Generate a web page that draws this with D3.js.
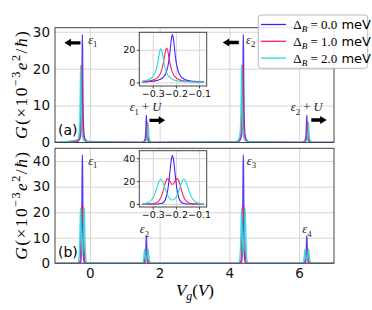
<!DOCTYPE html>
<html>
<head>
<meta charset="utf-8">
<script src="https://cdn.jsdelivr.net/npm/d3@7"></script>
<style>
  body { margin: 0; background: #fff; }
  svg { display: block; }
</style>
</head>
<body>
<svg id="chart"></svg>
<script>
// ---------- data ----------
var vgTicks = [0, 2, 4, 6];
var gTicksA = [0, 10, 20, 30];
var gTicksB = [0, 10, 20, 30, 40];
var insetVTicks = [-0.3, -0.2, -0.1];
var insetGTicksA = [0, 20];
var insetGTicksB = [0, 20, 40];
var deltaB = ["0.0", "1.0", "2.0"];

// zoom on the first resonance (both insets share this Vg grid)
var insetV = [-0.345, -0.32, -0.30, -0.29, -0.285, -0.28, -0.275, -0.27, -0.265, -0.26,
  -0.255, -0.25, -0.245, -0.24, -0.235, -0.23, -0.225, -0.22, -0.215, -0.21,
  -0.205, -0.20, -0.195, -0.19, -0.185, -0.18, -0.175, -0.17, -0.165, -0.16,
  -0.155, -0.15, -0.145, -0.14, -0.13, -0.12, -0.10, -0.08];
var insetBlueA = [0.33, 0.50, 0.75, 0.96, 1.10, 1.26, 1.47, 1.74, 2.07, 2.52, 3.11, 3.93, 5.10, 6.99, 9.64, 13.7, 19.4, 26.0, 29.3, 26.0,
  19.4, 13.7, 9.64, 6.99, 5.10, 3.93, 3.11, 2.52, 2.07, 1.74, 1.47, 1.26, 1.10, 0.96, 0.75, 0.61, 0.42, 0.30];
var insetRedA = [0.48, 0.82, 1.40, 1.97, 2.38, 2.92, 3.66, 4.69, 6.16, 8.27, 11.3, 15.2, 19.3, 21.0, 19.3, 15.2, 11.3, 8.27, 6.16, 4.69,
  3.66, 2.92, 2.38, 1.97, 1.66, 1.40, 1.21, 1.05, 0.92, 0.82, 0.73, 0.65, 0.58, 0.53, 0.44, 0.37, 0.27, 0.21];
var insetCyanA = [0.79, 1.61, 3.56, 5.99, 8.04, 10.96, 14.8, 18.8, 20.8, 18.8, 14.8, 10.96, 8.04, 5.99, 4.56, 3.56, 2.84, 2.31, 1.91, 1.61,
  1.36, 1.18, 1.02, 0.90, 0.79, 0.71, 0.63, 0.57, 0.51, 0.47, 0.43, 0.39, 0.36, 0.33, 0.29, 0.25, 0.19, 0.15];
var insetBlueB = [0, 0, 0, 0.01, 0.03, 0.06, 0.12, 0.21, 0.39, 0.71, 1.3, 2.35, 4.2, 7.4, 12.5, 20.2, 29.7, 38.4, 42.4, 38.4,
  29.7, 20.2, 12.5, 7.4, 4.2, 2.35, 1.3, 0.71, 0.39, 0.21, 0.12, 0.06, 0.03, 0.01, 0, 0, 0, 0];
var insetRedB = [0, 0.04, 0.28, 0.67, 1.05, 1.62, 2.50, 3.80, 5.68, 8.26, 11.54, 15.25, 18.8, 21.3, 22.2, 21.3, 19.6, 17.9, 17.3, 17.9,
  19.6, 21.3, 22.2, 21.3, 18.8, 15.25, 11.54, 8.26, 5.68, 3.80, 2.50, 1.62, 1.05, 0.67, 0.28, 0.12, 0.02, 0];
var insetCyanB = [0.18, 1.22, 5.12, 9.57, 12.5, 15.7, 18.6, 20.8, 21.5, 20.8, 18.7, 15.8, 12.7, 9.83, 7.46, 5.69, 4.46, 3.78, 3.5, 3.78,
  4.46, 5.69, 7.46, 9.83, 12.7, 15.8, 18.7, 20.8, 21.5, 20.8, 18.6, 15.7, 12.5, 9.57, 5.12, 2.6, 0.57, 0.12];

// panel (a), other resonances as [Vg, G]
var blueA_e1U = [[1.47,0.06],[1.54,0.22],[1.58,0.81],[1.60,2.43],[1.61,4.9],[1.62,7.4],[1.63,4.9],[1.64,2.43],[1.66,0.81],[1.70,0.22],[1.77,0.06]];
var redA_e1U = [[1.495,0.06],[1.565,0.21],[1.605,0.76],[1.625,2.15],[1.635,3.96],[1.645,5.5],[1.655,3.96],[1.665,2.15],[1.685,0.76],[1.725,0.21],[1.795,0.06]];
var cyanA_e1U = [[1.52,0.06],[1.59,0.2],[1.63,0.73],[1.65,2.07],[1.66,3.8],[1.67,5.3],[1.68,3.8],[1.69,2.07],[1.71,0.73],[1.75,0.2],[1.82,0.06]];
var blueA_e2 = [[4.2,0.14],[4.3,0.56],[4.35,2.13],[4.37,5.24],[4.38,9.64],[4.39,19.4],[4.395,26.0],[4.40,29.3],[4.405,26.0],[4.41,19.4],[4.42,9.64],[4.43,5.24],[4.45,2.13],[4.5,0.56],[4.6,0.14]];
var redA_e2 = [[4.175,0.13],[4.275,0.53],[4.325,1.97],[4.345,4.69],[4.355,8.27],[4.365,15.2],[4.37,19.3],[4.375,21.0],[4.38,19.3],[4.385,15.2],[4.395,8.27],[4.405,4.69],[4.425,1.97],[4.475,0.53],[4.575,0.13]];
var cyanA_e2 = [[4.15,0.13],[4.25,0.51],[4.30,1.91],[4.32,4.56],[4.33,8.04],[4.34,14.8],[4.345,18.8],[4.35,20.8],[4.355,18.8],[4.36,14.8],[4.37,8.04],[4.38,4.56],[4.40,1.91],[4.45,0.51],[4.55,0.13]];
var blueA_e2U = [[6.07,0.06],[6.14,0.22],[6.18,0.81],[6.20,2.43],[6.21,4.9],[6.22,7.4],[6.23,4.9],[6.24,2.43],[6.26,0.81],[6.30,0.22],[6.37,0.06]];
var redA_e2U = [[6.095,0.06],[6.165,0.21],[6.205,0.76],[6.225,2.15],[6.235,3.96],[6.245,5.5],[6.255,3.96],[6.265,2.15],[6.285,0.76],[6.325,0.21],[6.395,0.06]];
var cyanA_e2U = [[6.12,0.06],[6.19,0.2],[6.23,0.73],[6.25,2.07],[6.26,3.8],[6.27,5.3],[6.28,3.8],[6.29,2.07],[6.31,0.73],[6.35,0.2],[6.42,0.06]];

// panel (b), other resonances as [Vg, G]
var blueB_e2 = [[1.52,0],[1.56,0.03],[1.58,0.33],[1.59,1.07],[1.60,3.19],[1.605,5.15],[1.61,7.6],[1.615,9.8],[1.62,10.7],[1.625,9.8],[1.63,7.6],[1.635,5.15],[1.64,3.19],[1.65,1.07],[1.66,0.33],[1.68,0.03],[1.72,0]];
var redB_e2 = [[1.505,0],[1.535,0.06],[1.555,0.37],[1.57,1.3],[1.58,2.65],[1.59,4.3],[1.60,5.1],[1.61,4.5],[1.62,4.0],[1.63,4.5],[1.64,5.1],[1.65,4.3],[1.66,2.65],[1.67,1.3],[1.685,0.37],[1.705,0.06],[1.735,0]];
var cyanB_e2 = [[1.47,0.01],[1.505,0.15],[1.535,1.31],[1.55,3.2],[1.56,4.76],[1.57,5.5],[1.58,4.79],[1.59,3.25],[1.60,1.91],[1.61,1.14],[1.62,0.9],[1.63,1.14],[1.64,1.91],[1.65,3.25],[1.66,4.79],[1.67,5.5],[1.68,4.76],[1.69,3.2],[1.705,1.31],[1.735,0.15],[1.77,0.01]];
var blueB_e3 = [[4.30,0],[4.34,0.12],[4.36,1.3],[4.37,4.2],[4.38,12.5],[4.385,20.2],[4.39,29.7],[4.395,38.4],[4.40,42.4],[4.405,38.4],[4.41,29.7],[4.415,20.2],[4.42,12.5],[4.43,4.2],[4.44,1.3],[4.46,0.12],[4.50,0]];
var redB_e3 = [[4.285,0],[4.315,0.28],[4.335,1.62],[4.35,5.68],[4.36,11.54],[4.37,18.8],[4.38,22.2],[4.39,19.6],[4.40,17.3],[4.41,19.6],[4.42,22.2],[4.43,18.8],[4.44,11.54],[4.45,5.68],[4.465,1.62],[4.485,0.28],[4.515,0]];
var cyanB_e3 = [[4.25,0.05],[4.285,0.57],[4.315,5.12],[4.33,12.5],[4.34,18.6],[4.35,21.5],[4.36,18.7],[4.37,12.7],[4.38,7.46],[4.39,4.46],[4.40,3.5],[4.41,4.46],[4.42,7.46],[4.43,12.7],[4.44,18.7],[4.45,21.5],[4.46,18.6],[4.47,12.5],[4.485,5.12],[4.515,0.57],[4.55,0.05]];
var blueB_e4 = [[6.12,0],[6.16,0.03],[6.18,0.33],[6.19,1.07],[6.20,3.19],[6.205,5.15],[6.21,7.6],[6.215,9.8],[6.22,10.7],[6.225,9.8],[6.23,7.6],[6.235,5.15],[6.24,3.19],[6.25,1.07],[6.26,0.33],[6.28,0.03],[6.32,0]];
var redB_e4 = [[6.105,0],[6.135,0.06],[6.155,0.37],[6.17,1.3],[6.18,2.65],[6.19,4.3],[6.20,5.1],[6.21,4.5],[6.22,4.0],[6.23,4.5],[6.24,5.1],[6.25,4.3],[6.26,2.65],[6.27,1.3],[6.285,0.37],[6.305,0.06],[6.335,0]];
var cyanB_e4 = [[6.07,0.01],[6.105,0.15],[6.135,1.31],[6.15,3.2],[6.16,4.76],[6.17,5.5],[6.18,4.79],[6.19,3.25],[6.20,1.91],[6.21,1.14],[6.22,0.9],[6.23,1.14],[6.24,1.91],[6.25,3.25],[6.26,4.79],[6.27,5.5],[6.28,4.76],[6.29,3.2],[6.305,1.31],[6.335,0.15],[6.37,0.01]];

// ---------- drawing ----------
var W = 372, H = 310;
var colors = ["#4422ff", "#ff2255", "#22dddd"];
var gridColor = "#d6d6d6";
var spineColor = "#444";
var serif = "'Liberation Serif', 'DejaVu Serif', serif";
var sans = "'DejaVu Sans', sans-serif";

var svg = d3.select("#chart").attr("width", W).attr("height", H)
    .style("font-family", sans);

var x = d3.scaleLinear().domain([-1, 7]).range([55, 334]);
var xi = d3.scaleLinear().domain([-0.358, -0.067]).range([139.3, 206.7]);

function pairs(v, g) {
    return v.map(function(d, i) { return [d, g[i]]; });
}
function fullCurve(inset, rest) {
    var pts = [[-1, 0]].concat(inset);
    rest.forEach(function(r) { pts = pts.concat(r); });
    return pts.concat([[7, 0]]);
}

// mathtext-like label: parts = [{t, it, sub, sup, font}]
function richText(sel, parts, size) {
    var shift = 0;
    parts.forEach(function(p) {
	var target = p.sub ? 0.25 * size : (p.sup ? -0.4 * size : 0);
	var ts = sel.append("tspan").text(p.t)
	    .attr("font-size", (p.sub || p.sup) ? size * 0.7 : size)
	    .attr("font-style", p.it ? "italic" : "normal")
	    .attr("dy", target - shift);
	ts.attr("font-family", p.font || serif);
	shift = target;
    });
}

function eps(n, plusU) {
    var parts = [{t: "\u03b5", it: true}, {t: n, sub: true}];
    if (plusU) parts.push({t: " + "}, {t: "U", it: true});
    return parts;
}

var panels = [
    {
	tag: "(a)", top: 27.7, bottom: 142.5, yDomain: [0, 31.1], yTicks: gTicksA, xLabels: false,
	series: [
	    fullCurve(pairs(insetV, insetBlueA), [blueA_e1U, blueA_e2, blueA_e2U]),
	    fullCurve(pairs(insetV, insetRedA), [redA_e1U, redA_e2, redA_e2U]),
	    fullCurve(pairs(insetV, insetCyanA), [cyanA_e1U, cyanA_e2, cyanA_e2U])
	],
	inset: {top: 32.3, bottom: 86, yDomain: [-2.2, 30.7], yTicks: insetGTicksA,
		series: [pairs(insetV, insetBlueA), pairs(insetV, insetRedA), pairs(insetV, insetCyanA)]},
	labels: [
	    {v: -0.05, g: 26.8, parts: eps("1")},
	    {v: 1.14, g: 8.4, parts: eps("1", true)},
	    {v: 4.48, g: 26.8, parts: eps("2")},
	    {v: 5.76, g: 8.4, parts: eps("2", true)}
	],
	arrows: [[-0.27, -0.73, 27], [1.71, 2.16, 6.0], [4.27, 3.81, 27.1], [6.35, 6.79, 6.1]]
    },
    {
	tag: "(b)", top: 148.3, bottom: 263.3, yDomain: [0, 45], yTicks: gTicksB, xLabels: true,
	series: [
	    fullCurve(pairs(insetV, insetBlueB), [blueB_e2, blueB_e3, blueB_e4]),
	    fullCurve(pairs(insetV, insetRedB), [redB_e2, redB_e3, redB_e4]),
	    fullCurve(pairs(insetV, insetCyanB), [cyanB_e2, cyanB_e3, cyanB_e4])
	],
	inset: {top: 150.7, bottom: 207, yDomain: [-2.6, 46.6], yTicks: insetGTicksB,
		series: [pairs(insetV, insetBlueB), pairs(insetV, insetRedB), pairs(insetV, insetCyanB)]},
	labels: [
	    {v: -0.05, g: 38.4, parts: eps("1")},
	    {v: 1.43, g: 11.7, parts: eps("2")},
	    {v: 4.50, g: 38.6, parts: eps("3")},
	    {v: 6.09, g: 11.7, parts: eps("4")}
	],
	arrows: []
    }
];

panels.forEach(function(p, pi) {
    var y = d3.scaleLinear().domain(p.yDomain).range([p.bottom, p.top]);
    var g = svg.append("g");
    var clipId = "clip" + pi;
    svg.append("clipPath").attr("id", clipId).append("rect")
	.attr("x", 55).attr("y", p.top).attr("width", 334 - 55).attr("height", p.bottom - p.top);

    // grid
    g.append("g").attr("transform", "translate(0," + p.bottom + ")")
	.call(d3.axisBottom(x).tickValues(vgTicks).tickSize(-(p.bottom - p.top)).tickFormat(""))
	.call(function(s) { s.select(".domain").remove(); })
	.selectAll("line").attr("stroke", gridColor).attr("stroke-width", 1);
    g.append("g").attr("transform", "translate(55,0)")
	.call(d3.axisLeft(y).tickValues(p.yTicks.filter(function(t) { return t > 0; }))
	      .tickSize(-(334 - 55)).tickFormat(""))
	.call(function(s) { s.select(".domain").remove(); })
	.selectAll("line").attr("stroke", gridColor).attr("stroke-width", 1);

    // curves
    var line = d3.line().x(function(d) { return x(d[0]); }).y(function(d) { return y(d[1]); })
	.curve(d3.curveMonotoneX);
    g.append("g").attr("clip-path", "url(#" + clipId + ")")
	.selectAll("path").data(p.series).enter().append("path")
	.attr("d", line).attr("fill", "none")
	.attr("stroke", function(d, i) { return colors[i]; })
	.attr("stroke-width", 1.3).attr("stroke-opacity", 0.9)
	.attr("stroke-linejoin", "round");

    // frame
    g.append("rect").attr("x", 55).attr("y", p.top).attr("width", 334 - 55).attr("height", p.bottom - p.top)
	.attr("fill", "none").attr("stroke", spineColor).attr("stroke-width", 1);

    // tick labels
    var ya = g.append("g").attr("transform", "translate(55,0)")
	.call(d3.axisLeft(y).tickValues(p.yTicks).tickSize(0).tickPadding(5));
    ya.select(".domain").remove();
    ya.selectAll("text").attr("font-size", 13.5).attr("font-family", sans).attr("fill", "#111");
    if (p.xLabels) {
	var xa = g.append("g").attr("transform", "translate(0," + p.bottom + ")")
	    .call(d3.axisBottom(x).tickValues(vgTicks).tickSize(0).tickPadding(5));
	xa.select(".domain").remove();
	xa.selectAll("text").attr("font-size", 13.5).attr("font-family", sans).attr("fill", "#111");
    }

    // resonance labels
    p.labels.forEach(function(l) {
	var t = g.append("text").attr("x", x(l.v)).attr("y", y(l.g)).attr("fill", "#222");
	richText(t, l.parts, 12.5);
    });

    // arrows
    p.arrows.forEach(function(a) {
	var x1 = x(a[0]), x2 = x(a[1]), yy = y(a[2]);
	var s = x2 > x1 ? 1 : -1, hb = x2 - s * 6.5;
	var pts = [[x1, yy - 1.7], [hb, yy - 1.7], [hb, yy - 4], [x2, yy], [hb, yy + 4], [hb, yy + 1.7], [x1, yy + 1.7]];
	g.append("path").attr("d", "M" + pts.join("L") + "Z").attr("fill", "#000");
    });

    // panel tag
    g.append("text").attr("x", 58).attr("y", pi === 0 ? 135 : 256.5)
	.attr("font-size", 14).attr("font-family", sans).text(p.tag);

    // y label
    var yl = g.append("text").attr("text-anchor", "middle")
	.attr("textLength", 108).attr("lengthAdjust", "spacing")
	.attr("transform", "translate(27," + ((p.top + p.bottom) / 2) + ") rotate(-90)");
    richText(yl, [{t: "G", it: true}, {t: "(\u00d710"}, {t: "\u22123", sup: true}, {t: "e", it: true},
		  {t: "2", sup: true}, {t: "/"}, {t: "\u0127", it: true}, {t: ")"}], 17.5);

    // inset
    var ins = p.inset;
    var yi = d3.scaleLinear().domain(ins.yDomain).range([ins.bottom, ins.top]);
    var gi = svg.append("g");
    var iw = xi.range()[1] - xi.range()[0];
    gi.append("rect").attr("x", xi.range()[0]).attr("y", ins.top).attr("width", iw)
	.attr("height", ins.bottom - ins.top).attr("fill", "#fff");
    gi.append("g").attr("transform", "translate(0," + ins.bottom + ")")
	.call(d3.axisBottom(xi).tickValues(insetVTicks).tickSize(-(ins.bottom - ins.top)).tickFormat(""))
	.call(function(s) { s.select(".domain").remove(); })
	.selectAll("line").attr("stroke", gridColor);
    gi.append("g").attr("transform", "translate(" + xi.range()[0] + ",0)")
	.call(d3.axisLeft(yi).tickValues(ins.yTicks).tickSize(-iw).tickFormat(""))
	.call(function(s) { s.select(".domain").remove(); })
	.selectAll("line").attr("stroke", gridColor);
    var iclip = "iclip" + pi;
    svg.append("clipPath").attr("id", iclip).append("rect")
	.attr("x", xi.range()[0]).attr("y", ins.top).attr("width", iw).attr("height", ins.bottom - ins.top);
    var iline = d3.line().x(function(d) { return xi(d[0]); }).y(function(d) { return yi(d[1]); })
	.curve(d3.curveMonotoneX);
    gi.append("g").attr("clip-path", "url(#" + iclip + ")")
	.selectAll("path").data(ins.series).enter().append("path")
	.attr("d", iline).attr("fill", "none")
	.attr("stroke", function(d, i) { return colors[i]; })
	.attr("stroke-width", 1.1);
    gi.append("rect").attr("x", xi.range()[0]).attr("y", ins.top).attr("width", iw)
	.attr("height", ins.bottom - ins.top).attr("fill", "none").attr("stroke", spineColor);
    var ixa = gi.append("g").attr("transform", "translate(0," + ins.bottom + ")")
	.call(d3.axisBottom(xi).tickValues(insetVTicks).tickSize(2.5).tickPadding(1.5).tickFormat(d3.format(".1f")));
    ixa.select(".domain").remove();
    ixa.selectAll("line").attr("stroke", spineColor);
    ixa.selectAll("text").attr("font-size", 9.5).attr("font-family", sans).attr("fill", "#111");
    var iya = gi.append("g").attr("transform", "translate(" + xi.range()[0] + ",0)")
	.call(d3.axisLeft(yi).tickValues(ins.yTicks).tickSize(2.5).tickPadding(1.5));
    iya.select(".domain").remove();
    iya.selectAll("line").attr("stroke", spineColor);
    iya.selectAll("text").attr("font-size", 9.5).attr("font-family", sans).attr("fill", "#111");
});

// x label
var xl = svg.append("text").attr("x", 195).attr("y", 296).attr("text-anchor", "middle");
richText(xl, [{t: "V", it: true}, {t: "g", it: true, sub: true}, {t: "("}, {t: "V", it: true}, {t: ")"}], 17);

// legend
var leg = svg.append("g");
leg.append("rect").attr("x", 258.3).attr("y", 15).attr("width", 109.4).attr("height", 53.3).attr("rx", 3)
    .attr("fill", "#fff").attr("fill-opacity", 0.85).attr("stroke", "#bbb");
var legRows = [24.5, 41.3, 58.1];
deltaB.forEach(function(v, i) {
    leg.append("line").attr("x1", 261).attr("x2", 286).attr("y1", legRows[i]).attr("y2", legRows[i])
	.attr("stroke", colors[i]).attr("stroke-width", 1.3);
    var t = leg.append("text").attr("x", 293.3).attr("y", legRows[i] + 4.5);
    richText(t, [{t: "\u0394"}, {t: "B", it: true, sub: true}, {t: " = " + v}, {t: " meV", font: sans}], 13);
});
</script>
</body>
</html>
